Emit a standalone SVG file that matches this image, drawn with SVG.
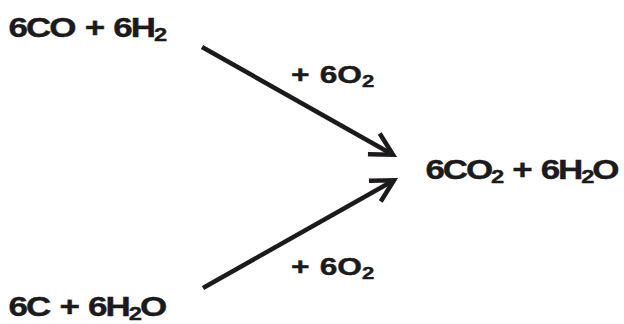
<svg xmlns="http://www.w3.org/2000/svg" width="624" height="324" viewBox="0 0 624 324">
  <style>
    .t { font-family: "Liberation Sans", Arial, sans-serif; font-weight: bold; fill: #1c1a1b; stroke: #1c1a1b; stroke-width: 0.4px; }
    .main { font-size: 28px; letter-spacing: -1.6px; word-spacing: 2px; }
    .lab { font-size: 23px; word-spacing: 1px; }
    .sub { font-size: 19px; }
    .lsub { font-size: 16px; }
    .conn { stroke: #1c1a1b; stroke-width: 4.5; fill: none; }
  </style>
  <defs>
    <marker id="head" markerUnits="userSpaceOnUse" markerWidth="40" markerHeight="40" refX="0" refY="0" orient="auto" overflow="visible">
      <path d="M -22,-12 L 0,0 L -22,12" fill="none" stroke="#1c1a1b" stroke-width="4.5" stroke-linejoin="miter"/>
    </marker>
  </defs>
  <rect width="624" height="324" fill="#ffffff"/>

  <g id="connectors">
    <line class="conn" x1="202" y1="47" x2="393" y2="154.7" marker-end="url(#head)"/>
    <line class="conn" x1="203" y1="288" x2="394" y2="180.3" marker-end="url(#head)"/>
  </g>

  <g id="reactant-co-h2">
    <text class="t main" transform="translate(8.5,37) scale(1.25,1)">6CO + 6H<tspan class="sub" dy="4">2</tspan></text>
  </g>
  <g id="reactant-c-h2o">
    <text class="t main" transform="translate(8.5,316) scale(1.25,1)">6C + 6H<tspan class="sub" dy="4">2</tspan><tspan dy="-4">O</tspan></text>
  </g>
  <g id="product">
    <text class="t main" transform="translate(425.5,179) scale(1.25,1)" style="letter-spacing:-1.7px">6CO<tspan class="sub" dy="4">2</tspan><tspan dy="-4"> + 6H</tspan><tspan class="sub" dy="4">2</tspan><tspan dy="-4">O</tspan></text>
  </g>
  <g id="label-top">
    <text class="t lab" transform="translate(291,83) scale(1.38,1)">+ 6O<tspan class="lsub" dy="4">2</tspan></text>
  </g>
  <g id="label-bottom">
    <text class="t lab" transform="translate(291,275) scale(1.38,1)">+ 6O<tspan class="lsub" dy="4">2</tspan></text>
  </g>
</svg>
